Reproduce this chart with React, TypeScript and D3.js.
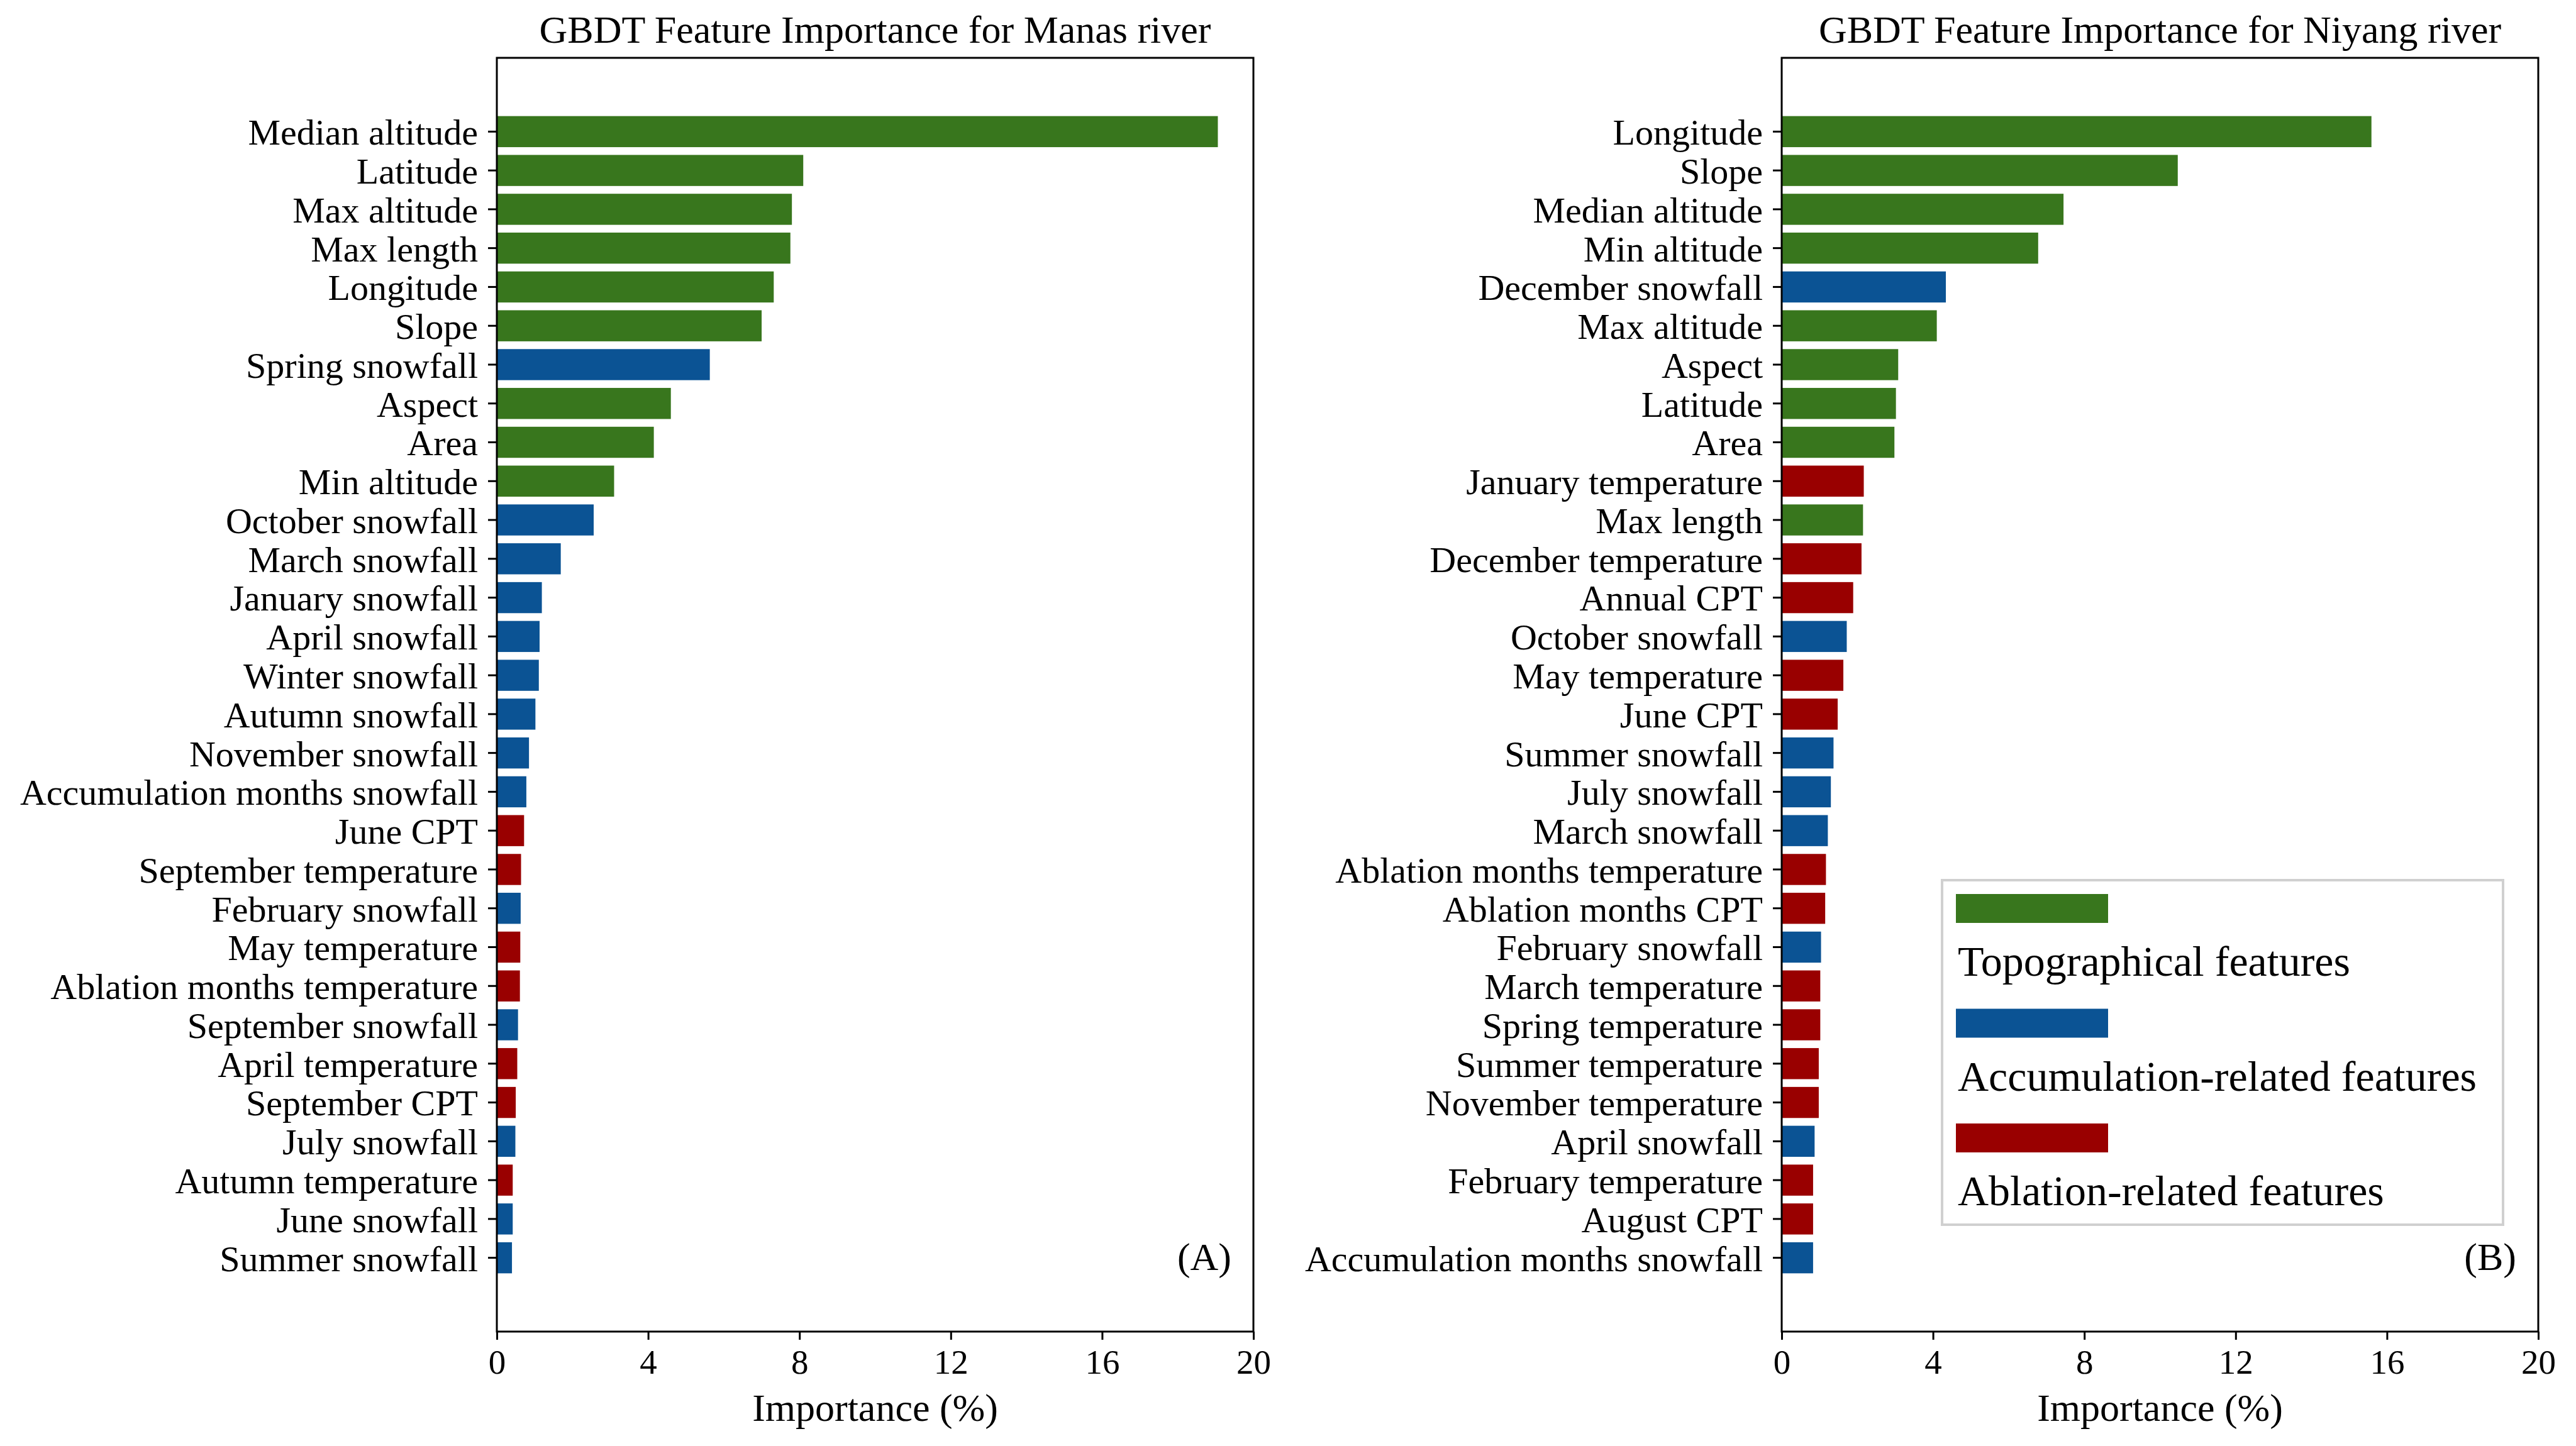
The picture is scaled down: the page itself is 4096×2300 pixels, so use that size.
import * as d3 from 'd3'
import { useEffect, useRef } from 'react'

// feature importance (%) for each basin, top to bottom
const manasFeatures = [
    'Median altitude', 'Latitude', 'Max altitude', 'Max length', 'Longitude', 'Slope',
    'Spring snowfall', 'Aspect', 'Area', 'Min altitude', 'October snowfall', 'March snowfall',
    'January snowfall', 'April snowfall', 'Winter snowfall', 'Autumn snowfall', 'November snowfall',
    'Accumulation months snowfall', 'June CPT', 'September temperature', 'February snowfall',
    'May temperature', 'Ablation months temperature', 'September snowfall', 'April temperature',
    'September CPT', 'July snowfall', 'Autumn temperature', 'June snowfall', 'Summer snowfall',
]
const manasImportance = [
    19.06, 8.10, 7.80, 7.76, 7.32, 7.00,
    5.63, 4.60, 4.15, 3.10, 2.56, 1.69,
    1.19, 1.13, 1.11, 1.02, 0.85,
    0.78, 0.72, 0.64, 0.63,
    0.62, 0.61, 0.56, 0.54,
    0.50, 0.49, 0.42, 0.42, 0.40,
]

const niyangFeatures = [
    'Longitude', 'Slope', 'Median altitude', 'Min altitude', 'December snowfall', 'Max altitude',
    'Aspect', 'Latitude', 'Area', 'January temperature', 'Max length', 'December temperature',
    'Annual CPT', 'October snowfall', 'May temperature', 'June CPT', 'Summer snowfall', 'July snowfall',
    'March snowfall', 'Ablation months temperature', 'Ablation months CPT', 'February snowfall',
    'March temperature', 'Spring temperature', 'Summer temperature', 'November temperature',
    'April snowfall', 'February temperature', 'August CPT', 'Accumulation months snowfall',
]
const niyangImportance = [
    15.59, 10.47, 7.45, 6.78, 4.34, 4.10,
    3.08, 3.02, 2.98, 2.17, 2.15, 2.11,
    1.89, 1.72, 1.63, 1.48, 1.37, 1.30,
    1.22, 1.17, 1.15, 1.04,
    1.02, 1.02, 0.98, 0.98,
    0.87, 0.83, 0.83, 0.83,
]

const xTicks = [0, 4, 8, 12, 16, 20]
const groupLabels = ['Topographical features', 'Accumulation-related features', 'Ablation-related features']
const groupColors = ['#38761d', '#0b5394', '#990000']

const FONT = '"Liberation Serif", "Times New Roman", serif'

function featureGroup(name: string) {
    if (name.includes('snowfall')) return 1
    if (name.includes('temperature') || name.includes('CPT')) return 2
    return 0
}

export default function App() {
    const chart = useRef<SVGSVGElement>(null)

    useEffect(() => {
        const width = 4096
        const height = 2300
        const top = 92
        const bottom = 2118
        const plotW = 1203

        const svg = d3.select(chart.current)
        svg.selectAll('*').remove()
        svg.attr('width', width).attr('height', height)
            .style('font-family', FONT)

        svg.append('rect').attr('width', width).attr('height', height).attr('fill', '#fff')

        const panels = [
            { title: 'GBDT Feature Importance for Manas river', features: manasFeatures, values: manasImportance, tag: '(A)', left: 790, legend: false },
            { title: 'GBDT Feature Importance for Niyang river', features: niyangFeatures, values: niyangImportance, tag: '(B)', left: 2833, legend: true },
        ]

        panels.forEach(p => {
            const x = d3.scaleLinear()
                .domain([0, 20])
                .range([p.left, p.left + plotW])

            const y = d3.scaleBand()
                .domain(p.features)
                .range([top, bottom])
                .paddingInner(0.2)
                .paddingOuter(1.5)

            const rows = p.features.map((f, i) => ({ name: f, value: p.values[i], group: featureGroup(f) }))

            svg.append('g')
                .selectAll('rect')
                .data(rows)
                .join('rect')
                    .attr('x', x(0))
                    .attr('y', d => y(d.name)!)
                    .attr('width', d => x(d.value) - x(0))
                    .attr('height', y.bandwidth())
                    .attr('fill', d => groupColors[d.group])

            const yAxis = svg.append('g')
                .attr('transform', 'translate(' + x(0) + ',0)')
                .call(d3.axisLeft(y).tickSize(14).tickPadding(16))
            yAxis.select('.domain').remove()
            yAxis.selectAll('line').attr('stroke', '#000').attr('stroke-width', 3)
            yAxis.selectAll('text')
                .attr('dy', '0.36em')
                .attr('fill', '#000')
                .style('font-size', '58px')
                .style('font-family', FONT)

            const xAxis = svg.append('g')
                .attr('transform', 'translate(0,' + bottom + ')')
                .call(d3.axisBottom(x).tickValues(xTicks).tickSize(13))
            xAxis.select('.domain').remove()
            xAxis.selectAll('line').attr('stroke', '#000').attr('stroke-width', 3)
            xAxis.selectAll('text')
                .attr('y', 67)
                .attr('dy', 0)
                .attr('fill', '#000')
                .style('font-size', '55px')
                .style('font-family', FONT)

            // frame
            svg.append('rect')
                .attr('x', x(0))
                .attr('y', top)
                .attr('width', x(20) - x(0))
                .attr('height', bottom - top)
                .attr('fill', 'none')
                .attr('stroke', '#000')
                .attr('stroke-width', 3)

            svg.append('text')
                .attr('x', (x(0) + x(20)) / 2)
                .attr('y', 68)
                .attr('text-anchor', 'middle')
                .style('font-size', '62px')
                .text(p.title)

            svg.append('text')
                .attr('x', (x(0) + x(20)) / 2)
                .attr('y', 2260)
                .attr('text-anchor', 'middle')
                .style('font-size', '62px')
                .text('Importance (%)')

            svg.append('text')
                .attr('x', x(20) - 35)
                .attr('y', 2020)
                .attr('text-anchor', 'end')
                .style('font-size', '62px')
                .text(p.tag)

            if (p.legend) {
                const boxX = x(20) - 948
                const boxY = bottom - 718
                const lg = svg.append('g')
                lg.append('rect')
                    .attr('x', boxX)
                    .attr('y', boxY)
                    .attr('width', 892)
                    .attr('height', 548)
                    .attr('fill', '#fff')
                    .attr('stroke', '#d0d0d0')
                    .attr('stroke-width', 4)
                const item = lg.selectAll('g.item')
                    .data(groupLabels)
                    .join('g')
                    .attr('class', 'item')
                    .attr('transform', (d, i) => 'translate(' + (boxX + 22) + ',' + (boxY + 22 + i * 182.5) + ')')
                item.append('rect')
                    .attr('width', 242)
                    .attr('height', 46)
                    .attr('fill', (d, i) => groupColors[i])
                item.append('text')
                    .attr('x', 3)
                    .attr('y', 130)
                    .style('font-size', '68px')
                    .text(d => d)
            }
        })
    })

    return (
        <svg ref={chart} style={{ position: 'absolute', left: 0, top: 0, display: 'block' }}></svg>
    )
}
